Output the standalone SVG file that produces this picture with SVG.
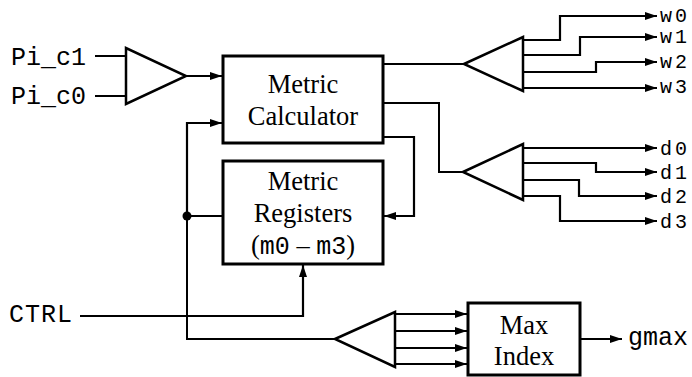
<svg xmlns="http://www.w3.org/2000/svg" width="692" height="377" viewBox="0 0 692 377">
<style>
.box{fill:#fff;stroke:#000;stroke-width:3}
.tri{fill:#fff;stroke:#000;stroke-width:2.5;stroke-linejoin:miter}
.w{fill:none;stroke:#000;stroke-width:2}
.a{fill:none;stroke:#000;stroke-width:2.2;marker-end:url(#ah)}
.serif{font-family:"Liberation Serif","Times New Roman",serif;font-size:26.5px;fill:#000;text-anchor:middle}
.mono{font-family:"Liberation Mono","Courier New",monospace;font-size:25px;fill:#000}
.lab{font-family:"Liberation Mono","Courier New",monospace;font-size:20px;fill:#000;letter-spacing:3px}
</style>
<defs>
<marker id="ah" markerUnits="userSpaceOnUse" markerWidth="13" markerHeight="9" refX="12" refY="4" orient="auto">
<path d="M0,0 L12,4 L0,8 z" fill="#000"/>
</marker>
</defs>
<g id="connectors">
<polyline class="w" points="95,56 126,56"/>
<polyline class="w" points="95,96 126,96"/>
<polyline class="a" points="186,76 222,76"/>
<polyline class="a" points="187,216 187,123 222,123"/>
<polyline class="w" points="383,64 464,64"/>
<polyline class="w" points="383,103 439,103 439,172 463,172"/>
<polyline class="a" points="383,137 414,137 414,216 384,216"/>
<polyline class="w" points="187,216 223,216"/>
<polyline class="w" points="187,216 187,339 335,339"/>
<polyline class="a" points="80,316 303,316 303,265"/>
<polyline class="a" points="523,40 560,40 560,16 657,16"/>
<polyline class="a" points="523,55 580,55 580,37 657,37"/>
<polyline class="a" points="523,72 596,72 596,62 657,62"/>
<polyline class="a" points="523,88 657,88"/>
<polyline class="a" points="523,148 657,148"/>
<polyline class="a" points="523,163 596,163 596,172 657,172"/>
<polyline class="a" points="523,180 579,180 579,196 657,196"/>
<polyline class="a" points="523,196 560,196 560,221 657,221"/>
<polyline class="a" points="395,314 467,314"/>
<polyline class="a" points="395,331 467,331"/>
<polyline class="a" points="395,348 467,348"/>
<polyline class="a" points="395,364 467,364"/>
<polyline class="a" points="580,339 622,339"/>
<circle cx="187" cy="216" r="4.5" fill="#000"/>
</g>
<g id="inputs">
<text class="mono" x="11" y="65">Pi_c1</text>
<text class="mono" x="11" y="104">Pi_c0</text>
<text class="mono" x="9" y="322" letter-spacing="1">CTRL</text>
</g>
<g id="combiner">
<polygon class="tri" points="126,48 126,104 186,76"/>
</g>
<g id="metric-calculator">
<rect class="box" x="223" y="56" width="160" height="87"/>
<text class="serif" x="303" y="93">Metric</text>
<text class="serif" x="303" y="125">Calculator</text>
</g>
<g id="metric-registers">
<rect class="box" x="223" y="161" width="160" height="103"/>
<text class="serif" x="303" y="190">Metric</text>
<text class="serif" x="303" y="222">Registers</text>
<text class="serif" x="303" y="254">(<tspan font-family="Liberation Mono, monospace" font-size="25">m0</tspan> – <tspan font-family="Liberation Mono, monospace" font-size="25">m3</tspan>)</text>
</g>
<g id="w-splitter">
<polygon class="tri" points="464,64 523,37 523,91"/>
<text class="lab" x="660" y="22">w0</text>
<text class="lab" x="660" y="43">w1</text>
<text class="lab" x="660" y="68">w2</text>
<text class="lab" x="660" y="93">w3</text>
</g>
<g id="d-splitter">
<polygon class="tri" points="463,172 523,144 523,200"/>
<text class="lab" x="660" y="155">d0</text>
<text class="lab" x="660" y="179">d1</text>
<text class="lab" x="660" y="203">d2</text>
<text class="lab" x="660" y="228">d3</text>
</g>
<g id="m-splitter">
<polygon class="tri" points="335,339 395,312 395,367"/>
</g>
<g id="max-index">
<rect class="box" x="468" y="303" width="112" height="72"/>
<text class="serif" x="524" y="334">Max</text>
<text class="serif" x="524" y="365">Index</text>
<text class="mono" x="628" y="345">gmax</text>
</g>
</svg>
